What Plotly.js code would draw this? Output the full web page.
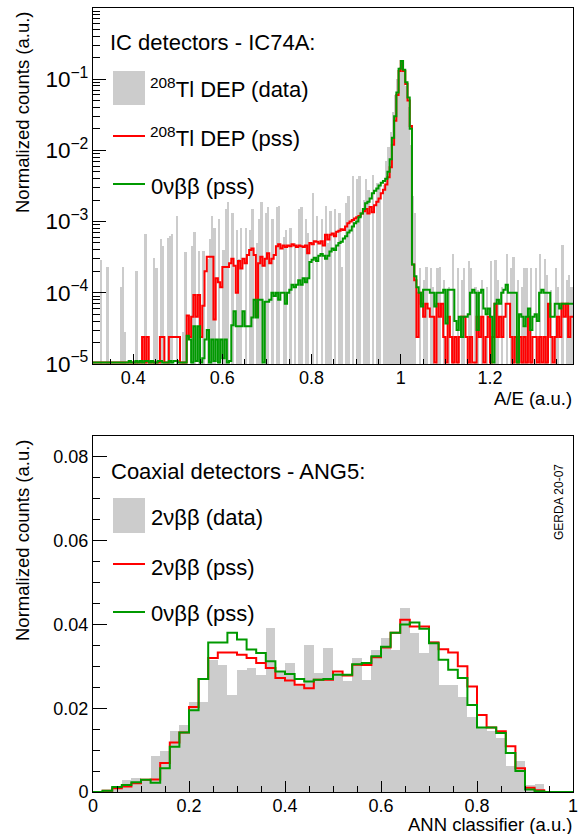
<!DOCTYPE html>
<html><head><meta charset="utf-8">
<script src="https://cdn.plot.ly/plotly-3.0.1.min.js"></script>
<style>html,body{margin:0;padding:0;background:#fff}</style>
</head><body><div id="chart" style="width:587px;height:834px"></div>
<script>
// ---------- Top panel: A/E, IC74A (bins of 0.005 starting at 0.31) ----------
const AE_LO = 0.31, AE_W = 0.005;
const ae_tl_dep_data = [
0,0,0,2.9e-4,0,0,2.3e-4,0,0,0,
0,0,1.2e-4,2.3e-4,2.8e-5,0,0,0,0,2e-4,
0,0,0,6.6e-4,0,0,0,3.1e-4,2.2e-4,0,
5.7e-4,4.5e-4,0,5.9e-4,6.3e-4,6.6e-4,0,1.2e-3,0,0,
2.8e-5,3.7e-4,0,0,4.6e-4,7.2e-4,0,3.8e-4,0,3.8e-4,
0,3e-4,5.7e-4,1.2e-3,8e-4,0,1.07e-3,0,4e-4,1.5e-3,
1.9e-3,0,1.3e-3,0,7.7e-4,3e-4,8.1e-4,0,8e-4,0,
7.7e-4,1.5e-3,0,5e-4,1.07e-3,1.9e-3,0,1.3e-3,1.6e-3,0,
1.07e-3,0,1.6e-3,1.65e-3,0,6e-4,7.7e-4,0,8e-4,0,
5e-4,0,1.5e-3,1.6e-3,0,1.1e-3,7e-4,0,2.5e-3,0,
1.2e-3,0,1.07e-3,0,1.65e-3,5e-4,1.4e-3,0,1.5e-3,0,
1.3e-3,2.3e-4,0,1.8e-3,2.3e-3,0,4.3e-3,0,3.9e-3,4.4e-3,
0,2e-3,3.9e-3,2.8e-3,0,4.5e-3,0,3.5e-3,3.2e-3,0,
3.3e-3,7e-3,1.1e-2,1.8e-2,3.5e-2,6e-2,0.1,0.15,0.17,0.13,
0.08,0.04,0.012,2.3e-3,1.3e-3,0,2.2e-4,0,1.5e-4,2.3e-4,
0,2.2e-4,1.2e-4,0,2.2e-4,2.3e-4,0,1.5e-4,0,1.2e-4,
0,3.5e-4,0,2.2e-4,0,1.5e-4,2.2e-4,0,2.8e-4,2.2e-4,
0,1.2e-4,1.1e-4,0,1.5e-4,0,1.2e-4,0,2.8e-4,0,
2.9e-4,1.5e-4,0,1.2e-4,0,3.5e-4,0,2.2e-4,3.2e-4,0,
1.5e-4,0,1.2e-4,2.2e-4,2.2e-4,0,2.2e-4,0,2.2e-4,0,
3.5e-4,0,3e-4,1.8e-4,0,1.1e-4,0,2.2e-4,1.2e-4,0,
4.7e-4,0,1.5e-4,1.8e-4,1.2e-4,0];
const ae_tl_dep_pss = [
0,0,0,0,0,0,0,0,0,0,
0,0,0,0,0,0,0,0,0,0,
0,0,2.4e-5,0,2.4e-5,0,0,0,0,0,
2.4e-5,2.4e-5,0,0,2.4e-5,2.4e-5,2.4e-5,2.4e-5,2.4e-5,0,
0,0,4.8e-5,2.4e-5,4.6e-5,9.3e-5,4.6e-5,9.3e-5,2.4e-5,6.6e-5,
2e-4,3.2e-4,3.2e-4,3.2e-4,4.2e-5,1.6e-4,1.4e-4,1.2e-4,2.3e-4,2.3e-4,
2.3e-4,2.6e-4,3e-4,2.4e-4,1e-4,2.8e-4,2.2e-4,3e-4,2.6e-4,3.4e-4,
4e-4,4.2e-4,3.4e-4,4.7e-5,2.6e-4,3.2e-4,2.4e-4,3e-4,3.6e-4,2.6e-4,
3e-4,3.4e-4,4.5e-4,4.8e-4,4.2e-4,4.6e-4,4.4e-4,4.6e-4,4.5e-4,4.8e-4,
4.6e-4,4.4e-4,4.6e-4,4.5e-4,4.4e-4,4.6e-4,3.6e-4,5e-4,4.8e-4,5.3e-4,
5.2e-4,4.9e-4,5.3e-4,4.6e-4,6.5e-4,5.6e-4,6.5e-4,6.8e-4,6.2e-4,7.2e-4,
7.4e-4,7.8e-4,7.6e-4,8.5e-4,9.5e-4,1e-3,1.05e-3,1.1e-3,1.15e-3,1.2e-3,
1.3e-3,1.4e-3,1.5e-3,1.3e-3,1.6e-3,1.35e-3,1.7e-3,1.9e-3,2.1e-3,2.5e-3,
2.8e-3,3.3e-3,4.2e-3,5.8e-3,1.2e-2,2.6e-2,6e-2,0.13,0.18,0.13,
0.085,0.05,0.022,2.5e-4,1.5e-4,2.4e-5,1e-4,7e-5,4.6e-5,7e-5,
6e-5,4.6e-5,4.6e-5,0,7e-5,4.6e-5,7e-5,2.4e-5,0,4.6e-5,
2.4e-5,0,2.4e-5,0,2.4e-5,4.6e-5,4.6e-5,2.4e-5,0,2.4e-5,
0,0,4.6e-5,2.4e-5,4.6e-5,0,2.4e-5,4.6e-5,0,2.4e-5,
7e-5,2.4e-5,4.6e-5,2.4e-5,4.6e-5,7e-5,7e-5,2.4e-5,0,2.4e-5,
0,2.4e-5,0,2.4e-5,0,4.6e-5,0,2.4e-5,2.4e-5,0,
2.4e-5,0,2.4e-5,0,7e-5,2.4e-5,0,2.4e-5,4.6e-5,2.4e-5,
7e-5,4.6e-5,7e-5,2.4e-5,4.6e-5,4.6e-5];
const ae_0nbb_pss = [
0,0,0,0,0,0,0,0,0,0,
0,0,0,0,0,0,1.1e-5,0,0,1.1e-5,
0,1.1e-5,0,1.1e-5,1.1e-5,0,1.1e-5,0,0,1.1e-5,
1.1e-5,0,0,0,1.1e-5,0,1.1e-5,1.1e-5,0,0,
0,0,2.5e-5,2.2e-5,0,3.4e-5,1.1e-5,3.4e-5,0,1.2e-5,
2.2e-5,3e-5,0,2.2e-5,1.1e-5,2.2e-5,0,2.2e-5,1.2e-5,2.2e-5,
0,1.1e-5,3.5e-5,5.5e-5,3.4e-5,3.4e-5,3.4e-5,5.5e-5,3.4e-5,3.4e-5,
3.4e-5,4.5e-5,8e-5,4.5e-5,8e-5,8e-5,0,7.5e-5,7.5e-5,8e-5,
1e-4,9e-5,1e-4,8e-5,1e-4,1e-4,7e-5,1e-4,1.1e-4,1.3e-4,
1.2e-4,1.3e-4,1.5e-4,1.3e-4,1.6e-4,1.4e-4,1.6e-4,2.7e-4,2.9e-4,3.1e-4,
2.8e-4,3.3e-4,3.5e-4,3.3e-4,3e-4,3.3e-4,3.8e-4,4.2e-4,4e-4,4.6e-4,
5e-4,5.2e-4,5.8e-4,6.2e-4,7e-4,7.5e-4,8.5e-4,9.5e-4,1e-3,1.15e-3,
1.3e-3,1.5e-3,1.8e-3,1.9e-3,2.1e-3,2.5e-3,2.7e-3,2.9e-3,3.2e-3,3.5e-3,
3.7e-3,4e-3,5e-3,7.5e-3,1.5e-2,3e-2,6.5e-2,0.14,0.18,0.135,
0.09,0.055,0.02,2.5e-4,1.7e-4,1.2e-4,1e-4,6.4e-5,1.1e-4,1.1e-4,
1.1e-4,1e-4,1e-4,6.4e-5,1e-4,1e-4,1e-4,1.1e-4,3.7e-5,1.1e-4,
1.1e-4,1.1e-4,4e-5,3e-5,4.6e-5,2.4e-5,4.6e-5,4.6e-5,5e-5,1e-4,
1.1e-4,1e-4,3e-5,1e-4,1.1e-4,6e-5,5e-5,6e-5,4.6e-5,0,
7e-5,8e-5,7e-5,1e-4,1.1e-4,1.3e-4,1e-4,1e-4,1e-4,1e-4,
0,5e-5,4.6e-5,3.4e-5,4.6e-5,6e-5,3e-5,4.6e-5,5e-5,4e-5,
1e-4,1.1e-4,1e-4,1e-4,1e-4,4.6e-5,4.6e-5,7e-5,7e-5,6e-5,
7e-5,7e-5,7e-5,7e-5,7e-5,7e-5];

// ---------- Bottom panel: ANN classifier, ANG5 (bins of 0.02 from 0) ----------
const ANN_LO = 0, ANN_W = 0.02;
const ann_2nbb_data = [0,0.0003,0.0012,0.0028,0.0033,0.003,0.0085,0.0097,0.0145,0.016,
0.0214,0.0214,0.0316,0.0304,0.0232,0.0292,0.0296,0.028,0.0391,0.029,
0.0309,0.0252,0.035,0.0285,0.0344,0.0284,0.0264,0.032,0.0268,0.034,
0.0368,0.034,0.0439,0.038,0.0332,0.036,0.0256,0.0256,0.0228,0.018,
0.0153,0.0145,0.0129,0.0061,0.0073,0.0017,0.002,0,0,0];
const ann_2nbb_pss = [0,0.0003,0.0009,0.0013,0.0021,0.0029,0.003,0.0069,0.0118,0.0142,
0.0203,0.027,0.032,0.0333,0.0333,0.0328,0.032,0.0308,0.0296,0.0272,
0.0266,0.0256,0.0248,0.0268,0.0268,0.0288,0.0278,0.0304,0.0303,0.0322,
0.0345,0.038,0.0411,0.0395,0.0395,0.0357,0.0341,0.0333,0.030,0.0252,
0.0184,0.0154,0.0145,0.0109,0.0057,0.001,0.0004,0,0,0];
const ann_0nbb_pss = [0,0.0003,0.0012,0.0017,0.0023,0.0029,0.0022,0.0057,0.0108,0.0142,
0.0195,0.027,0.0357,0.0357,0.038,0.0364,0.034,0.0332,0.0312,0.0288,
0.0282,0.027,0.0264,0.0268,0.027,0.028,0.028,0.0305,0.0308,0.0324,
0.0347,0.038,0.040,0.0405,0.039,0.0355,0.0316,0.0292,0.0272,0.0208,
0.0154,0.0154,0.0141,0.0093,0.005,0.0006,0.0002,0,0,0];

// ---------- helpers ----------
function centers(lo, w, n){ const a=[]; for(let i=0;i<n;i++) a.push(lo+(i+0.5)*w); return a; }
function edges(lo, w, n){ const a=[]; for(let i=0;i<=n;i++) a.push(lo+i*w); return a; }
function stepY(vals, floor){ const y = vals.map(v => (v>0 ? v : floor)); y.push(y[y.length-1]); return y; }

const W=587, H=834, L=93, R=14, T=8, B=42;
const PW=W-L-R, PH=H-T-B;
const px = xp => (xp-L)/PW;
const py = yp => (H-B-yp)/PH;

const RED='#ff0000', GREEN='#009900', GRAY='#cccccc';
const FONT='Liberation Sans, Arial, Helvetica, sans-serif';
const nA = ae_tl_dep_data.length, nB = ann_2nbb_data.length;
const LOG_FLOOR = 1.05e-5;   // empty bins drawn along the bottom of the log frame

const traces = [
  {type:'bar', x:centers(AE_LO,AE_W,nA), y:ae_tl_dep_data.map(v=>v>0?v:null), width:AE_W,
   marker:{color:GRAY, line:{width:0}}, xaxis:'x', yaxis:'y', hoverinfo:'skip'},
  {type:'scatter', mode:'lines', x:edges(AE_LO,AE_W,nA), y:stepY(ae_tl_dep_pss,LOG_FLOOR),
   line:{shape:'hv', color:RED, width:2}, xaxis:'x', yaxis:'y'},
  {type:'scatter', mode:'lines', x:edges(AE_LO,AE_W,nA), y:stepY(ae_0nbb_pss,LOG_FLOOR),
   line:{shape:'hv', color:GREEN, width:2}, xaxis:'x', yaxis:'y'},
  {type:'bar', x:centers(ANN_LO,ANN_W,nB), y:ann_2nbb_data, width:ANN_W,
   marker:{color:GRAY, line:{width:0}}, xaxis:'x2', yaxis:'y2', hoverinfo:'skip'},
  {type:'scatter', mode:'lines', x:edges(ANN_LO,ANN_W,nB), y:stepY(ann_2nbb_pss,0),
   line:{shape:'hv', color:RED, width:2}, xaxis:'x2', yaxis:'y2'},
  {type:'scatter', mode:'lines', x:edges(ANN_LO,ANN_W,nB), y:stepY(ann_0nbb_pss,0),
   line:{shape:'hv', color:GREEN, width:2}, xaxis:'x2', yaxis:'y2'}
];

const axBase = {showline:true, mirror:true, linecolor:'#000', linewidth:1, showgrid:false,
  zeroline:false, ticks:'inside', tickcolor:'#000', tickwidth:1,
  tickfont:{family:FONT, size:18, color:'#000'}};

const layout = {
  width:W, height:H, margin:{l:L, r:R, t:T, b:B},
  paper_bgcolor:'#fff', plot_bgcolor:'#fff', showlegend:false, bargap:0,
  font:{family:FONT, color:'#000'},
  xaxis: Object.assign({}, axBase, {domain:[0,1], anchor:'y', range:[0.31,1.386], ticklabelstandoff:-3,
    tick0:0, dtick:0.2, ticklen:10, minor:{ticks:'inside', ticklen:5, dtick:0.05, tick0:0, tickcolor:'#000'}}),
  yaxis: Object.assign({}, axBase, {domain:[py(364), 1], anchor:'x', type:'log', range:[-5,-0.002],
    dtick:1, exponentformat:'power', ticklen:13, minor:{ticks:'inside', ticklen:7, dtick:'D1', tickcolor:'#000'}}),
  xaxis2: Object.assign({}, axBase, {domain:[0,1], anchor:'y2', range:[0,1], ticklabelstandoff:-3,
    tick0:0, dtick:0.2, ticklen:11, minor:{ticks:'inside', ticklen:6, dtick:0.05, tick0:0, tickcolor:'#000'}}),
  yaxis2: Object.assign({}, axBase, {domain:[0, py(436)], anchor:'x2', range:[0,0.085],
    tick0:0, dtick:0.02, ticklen:14, minor:{ticks:'inside', ticklen:7, dtick:0.005, tick0:0, tickcolor:'#000'}}),
  shapes: [
    {type:'rect', xref:'paper', yref:'paper', x0:px(113), x1:px(145), y0:py(105), y1:py(71), fillcolor:GRAY, line:{width:0}},
    {type:'line', xref:'paper', yref:'paper', x0:px(113), x1:px(145), y0:py(136), y1:py(136), line:{color:RED, width:2}},
    {type:'line', xref:'paper', yref:'paper', x0:px(113), x1:px(145), y0:py(184), y1:py(184), line:{color:GREEN, width:2}},
    {type:'rect', xref:'paper', yref:'paper', x0:px(113), x1:px(145), y0:py(533), y1:py(498), fillcolor:GRAY, line:{width:0}},
    {type:'line', xref:'paper', yref:'paper', x0:px(113), x1:px(145), y0:py(564), y1:py(564), line:{color:RED, width:2}},
    {type:'line', xref:'paper', yref:'paper', x0:px(113), x1:px(145), y0:py(612), y1:py(612), line:{color:GREEN, width:2}}
  ],
  annotations: []
};

function ann(text, x, y, opts){
  return Object.assign({text:text, xref:'paper', yref:'paper', x:px(x), y:py(y), showarrow:false,
    xanchor:'left', yanchor:'middle', font:{family:FONT, size:22, color:'#000'}}, opts||{});
}
const TITLE_FONT = {family:FONT, size:18.5, color:'#000'};
layout.annotations.push(
  ann('IC detectors - IC74A:', 108, 42),
  ann('<sup>208</sup>Tl DEP (data)', 148, 88),
  ann('<sup>208</sup>Tl DEP (pss)', 148, 137),
  ann('0νββ (pss)', 149, 186),
  ann('Coaxial detectors - ANG5:', 109, 471),
  ann('2νββ (data)', 149, 517),
  ann('2νββ (pss)', 149, 567),
  ann('0νββ (pss)', 149, 613),
  ann('GERDA 20-07', 559, 502, {xanchor:'center', textangle:-90, font:{family:FONT, size:12, color:'#000'}}),
  ann('Normalized counts (a.u.)', 22, 9, {xanchor:'center', yanchor:'top', textangle:-90, font:TITLE_FONT}),
  ann('Normalized counts (a.u.)', 22, 437, {xanchor:'center', yanchor:'top', textangle:-90, font:TITLE_FONT}),
  ann('A/E (a.u.)', 574, 398, {xanchor:'right', font:TITLE_FONT}),
  ann('ANN classifier (a.u.)', 574, 824, {xanchor:'right', font:TITLE_FONT})
);

Plotly.newPlot('chart', traces, layout, {staticPlot:true, displayModeBar:false});
</script>
</body></html>
